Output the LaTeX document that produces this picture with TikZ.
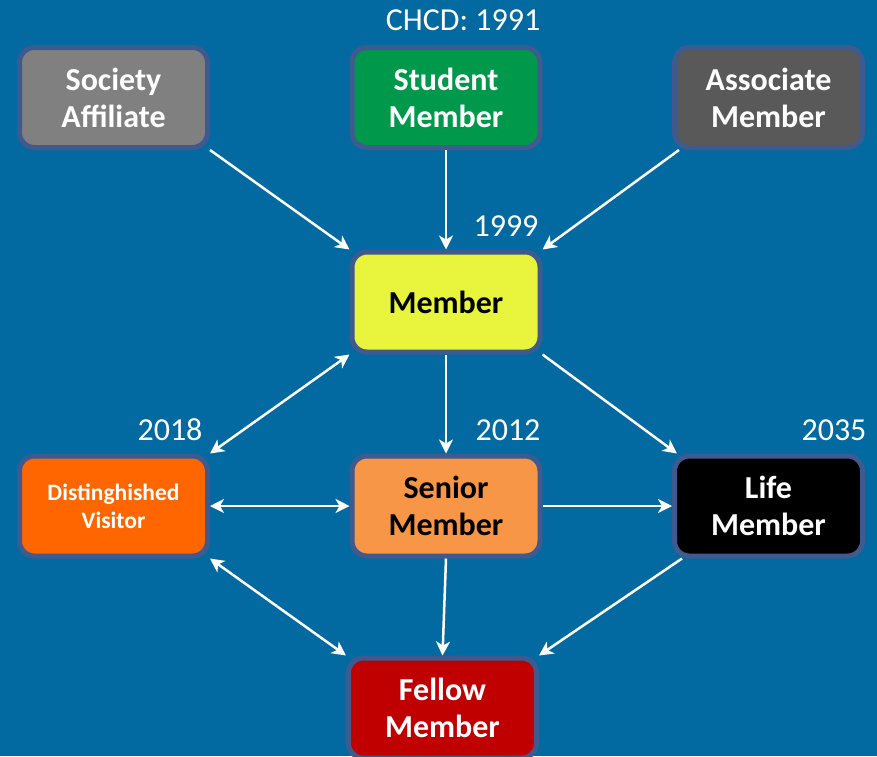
\documentclass[tikz,border=0pt]{standalone}
\usepackage{fontspec}
\setmainfont{Carlito}
\usetikzlibrary{arrows.meta}
\definecolor{bg}{RGB}{2,106,160}
\definecolor{bordc}{RGB}{62,90,142}
\definecolor{cgray}{RGB}{128,128,128}
\definecolor{cgreen}{RGB}{0,153,76}
\definecolor{cdgray}{RGB}{89,89,89}
\definecolor{cyel}{RGB}{232,245,60}
\definecolor{corange}{RGB}{255,102,0}
\definecolor{clorange}{RGB}{247,150,70}
\definecolor{cred}{RGB}{192,0,0}
\tikzset{
  box/.style={draw=bordc, line width=5pt, rounded corners=15pt, minimum width=188pt, minimum height=100pt, inner sep=0pt, align=center, font=\fontsize{32}{37}\selectfont\bfseries, text=white},
  yr/.style={text=white, font=\fontsize{32}{38}\selectfont, inner sep=0pt},
  arr/.style={draw=white, line width=2.5pt, -{Stealth[length=14pt,width=14pt,inset=4pt]}},
  darr/.style={draw=white, line width=2.5pt, {Stealth[length=14pt,width=14pt,inset=4pt]}-{Stealth[length=14pt,width=14pt,inset=4pt]}}
}
\begin{document}
\begin{tikzpicture}[x=1pt,y=-1pt]
\fill[bg] (0,0) rectangle (877,756);
\useasboundingbox (0,0) rectangle (877,756);
\node[box, fill=cgray] (soc) at (113.5,97.5) {Society\\Affiliate};
\node[box, fill=cgreen] (stu) at (446,97.5) {Student\\Member};
\node[box, fill=cdgray] (asc) at (768.5,97.5) {Associate\\Member};
\node[box, fill=cyel, text=black] (mem) at (446,302) {Member};
\node[box, fill=corange, font=\fontsize{23.5}{28}\selectfont\bfseries] (dv) at (113.5,506) {Distinghished\\Visitor};
\node[box, fill=clorange, text=black] (sen) at (446,506) {Senior\\Member};
\node[box, fill=black] (life) at (768.5,506) {Life\\Member};
\node[box, fill=cred] (fel) at (442.5,708) {Fellow\\Member};
\node[yr] (l1) at (463,20) {CHCD: 1991};
\node[yr] (l2) at (506,226) {1999};
\node[yr] (l3) at (170,430) {2018};
\node[yr] (l4) at (508,430) {2012};
\node[yr] (l5) at (834,430) {2035};
\draw[arr] (soc.south east) -- (mem.north west);
\draw[arr] (stu.south) -- (mem.north);
\draw[arr] ([xshift=7pt]asc.south west) -- (mem.north east);
\draw[darr] (mem.south west) -- (dv.north east);
\draw[arr] (mem.south) -- (sen.north);
\draw[arr] (mem.south east) -- ([xshift=5pt]life.north west);
\draw[darr] (dv.east) -- (sen.west);
\draw[arr] (sen.east) -- (life.west);
\draw[darr] (dv.south east) -- (fel.north west);
\draw[arr] (sen.south) -- (fel.north);
\draw[arr] ([xshift=10pt]life.south west) -- (fel.north east);
\end{tikzpicture}
\end{document}
